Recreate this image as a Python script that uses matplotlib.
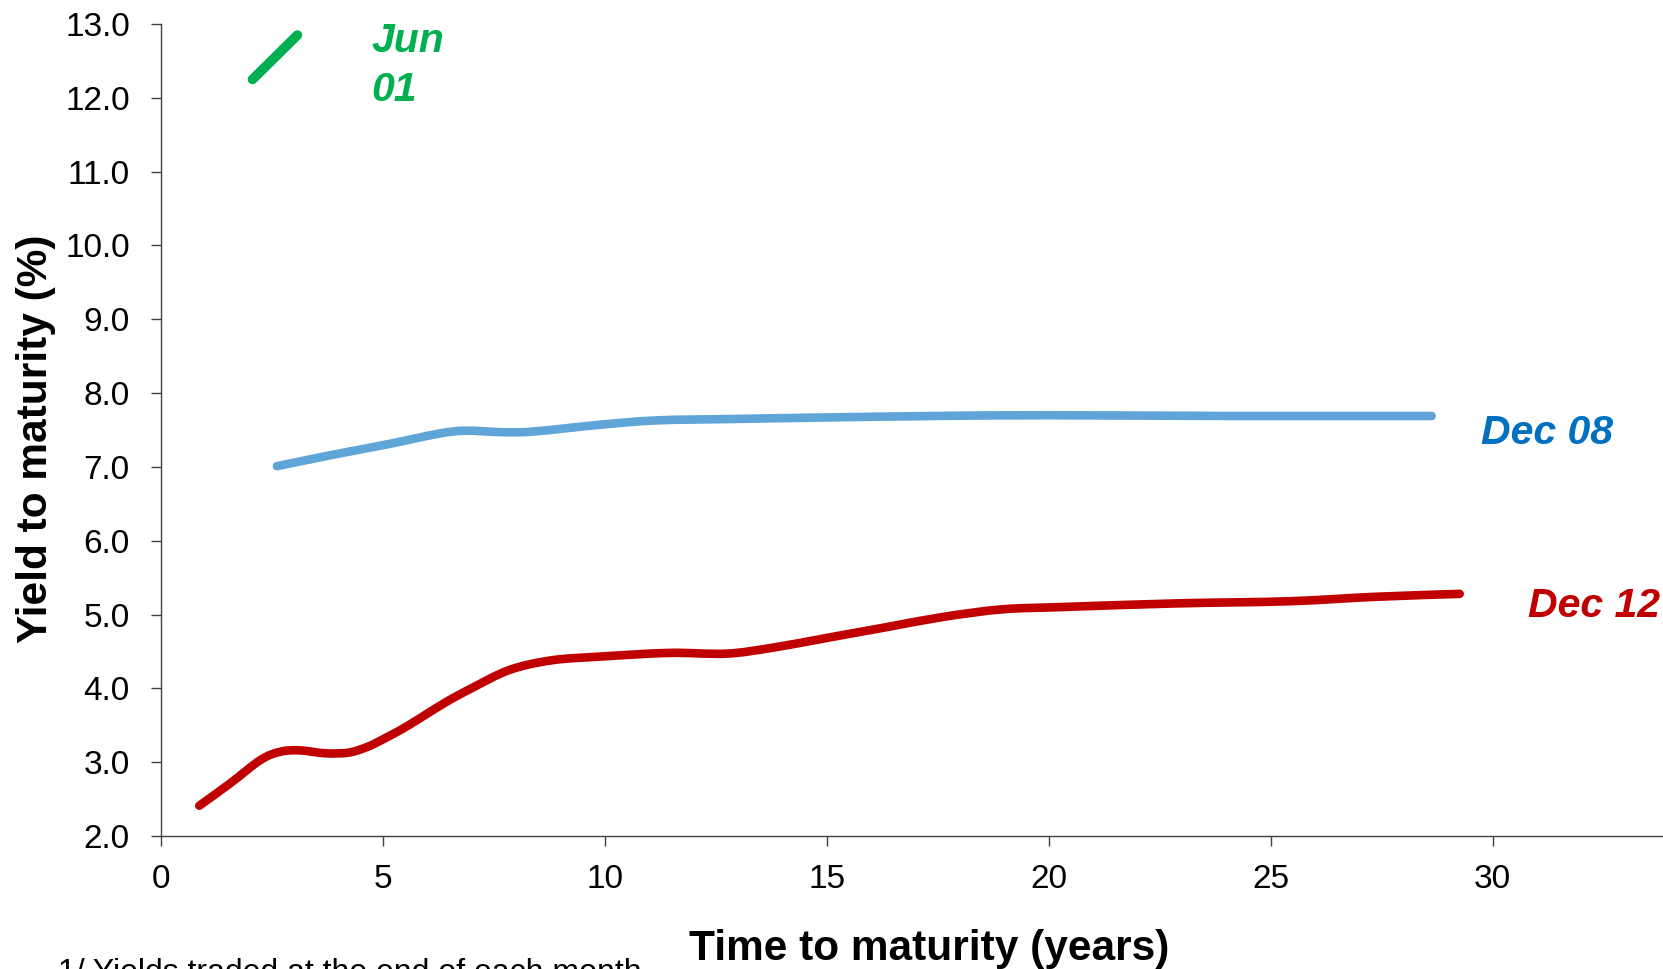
import matplotlib
matplotlib.use("Agg")
import matplotlib.pyplot as plt
from matplotlib.path import Path
from matplotlib.patches import PathPatch

plt.rcParams['font.family'] = ['Liberation Sans', 'DejaVu Sans']

# Yield curves (time to maturity in years, yield in %)
jun01_x = [2.07, 3.08]
jun01_y = [12.25, 12.85]

dec08_x = [2.62, 3.84, 5.14, 6.26, 6.86, 7.72, 8.41, 9.88, 11.17, 12.98, 15.0, 17.5, 20.0, 24.0, 28.63]
dec08_y = [7.01, 7.16, 7.31, 7.45, 7.49, 7.47, 7.48, 7.57, 7.63, 7.65, 7.67, 7.69, 7.70, 7.69, 7.69]

dec12_x = [0.87, 1.56, 2.25, 2.69, 3.12, 3.72, 4.24, 4.67, 5.01, 5.53, 6.39, 7.0, 7.86, 8.81, 9.9,
           11.45, 12.74, 13.78, 15.07, 16.36, 17.65, 18.95, 20.24, 22.83, 25.42, 27.36, 29.26]
dec12_y = [2.41, 2.71, 3.03, 3.14, 3.16, 3.12, 3.13, 3.21, 3.31, 3.48, 3.80, 4.00, 4.25, 4.38, 4.43,
           4.48, 4.47, 4.55, 4.69, 4.83, 4.97, 5.07, 5.10, 5.15, 5.18, 5.24, 5.28]

x_ticks = [0, 5, 10, 15, 20, 25, 30]
y_ticks = [2.0, 3.0, 4.0, 5.0, 6.0, 7.0, 8.0, 9.0, 10.0, 11.0, 12.0, 13.0]

GREEN = '#00B050'
BLUE_LINE = '#5FA5D8'
BLUE_TEXT = '#0070C0'
RED = '#C00000'


def smooth_path(xs, ys):
    """Spreadsheet-style smoothed line: cubic Bezier segments through every point."""
    pts = list(zip(xs, ys))
    n = len(pts)
    verts = [pts[0]]
    codes = [Path.MOVETO]
    for i in range(n - 1):
        p0 = pts[i - 1] if i > 0 else pts[i]
        p1 = pts[i]
        p2 = pts[i + 1]
        p3 = pts[i + 2] if i + 2 < n else pts[i + 1]
        c1 = (p1[0] + (p2[0] - p0[0]) / 6, p1[1] + (p2[1] - p0[1]) / 6)
        c2 = (p2[0] - (p3[0] - p1[0]) / 6, p2[1] - (p3[1] - p1[1]) / 6)
        verts += [c1, c2, p2]
        codes += [Path.CURVE4, Path.CURVE4, Path.CURVE4]
    return Path(verts, codes)


def draw_curve(ax, xs, ys, color, lw):
    patch = PathPatch(smooth_path(xs, ys), facecolor='none', edgecolor=color, lw=lw,
                      capstyle='round', joinstyle='round', transform=ax.transData)
    ax.add_patch(patch)


fig = plt.figure(figsize=(16.63, 9.69), dpi=100)
ax = fig.add_axes([0.0966, 0.1373, 0.9034, 0.8379])

draw_curve(ax, jun01_x, jun01_y, GREEN, 7.0)
draw_curve(ax, dec08_x, dec08_y, BLUE_LINE, 6.2)
draw_curve(ax, dec12_x, dec12_y, RED, 6.2)

lab_kw = dict(fontsize=29.5, fontweight='bold', fontstyle='italic', va='center', ha='left')
ax.text(4.75, 12.44, 'Jun\n01', color=GREEN, linespacing=1.38, **lab_kw)
ax.text(29.73, 7.46, 'Dec 08', color=BLUE_TEXT, **lab_kw)
ax.text(30.81, 5.12, 'Dec 12', color=RED, **lab_kw)

ax.set_xlim(0, 33.84)
ax.set_ylim(2.0, 13.0)
ax.set_xticks(x_ticks)
ax.set_xticklabels([str(v) for v in x_ticks])
ax.set_yticks(y_ticks)
ax.set_yticklabels([f'{v:.1f}' for v in y_ticks])

for side in ('top', 'right'):
    ax.spines[side].set_visible(False)
for side in ('left', 'bottom'):
    ax.spines[side].set_color('#404040')
    ax.spines[side].set_linewidth(1.0)

ax.tick_params(axis='both', colors='#404040', labelcolor='black', labelsize=24,
               length=7.2, width=1.0, direction='out')
ax.tick_params(axis='y', pad=15)
ax.tick_params(axis='x', pad=13)

fig.text(929 / 1663, 9 / 969, 'Time to maturity (years)', fontsize=30.5, fontweight='bold',
         ha='center', va='baseline')
fig.text(47 / 1663, 1 - 439 / 969, 'Yield to maturity (%)', fontsize=30.5, fontweight='bold',
         rotation=90, ha='center', va='baseline', rotation_mode='anchor')
fig.text(58 / 1663, 1 - 958 / 969, '1/ Yields traded at the end of each month', fontsize=23,
         ha='left', va='top')

fig.savefig('out.png', dpi=100)
